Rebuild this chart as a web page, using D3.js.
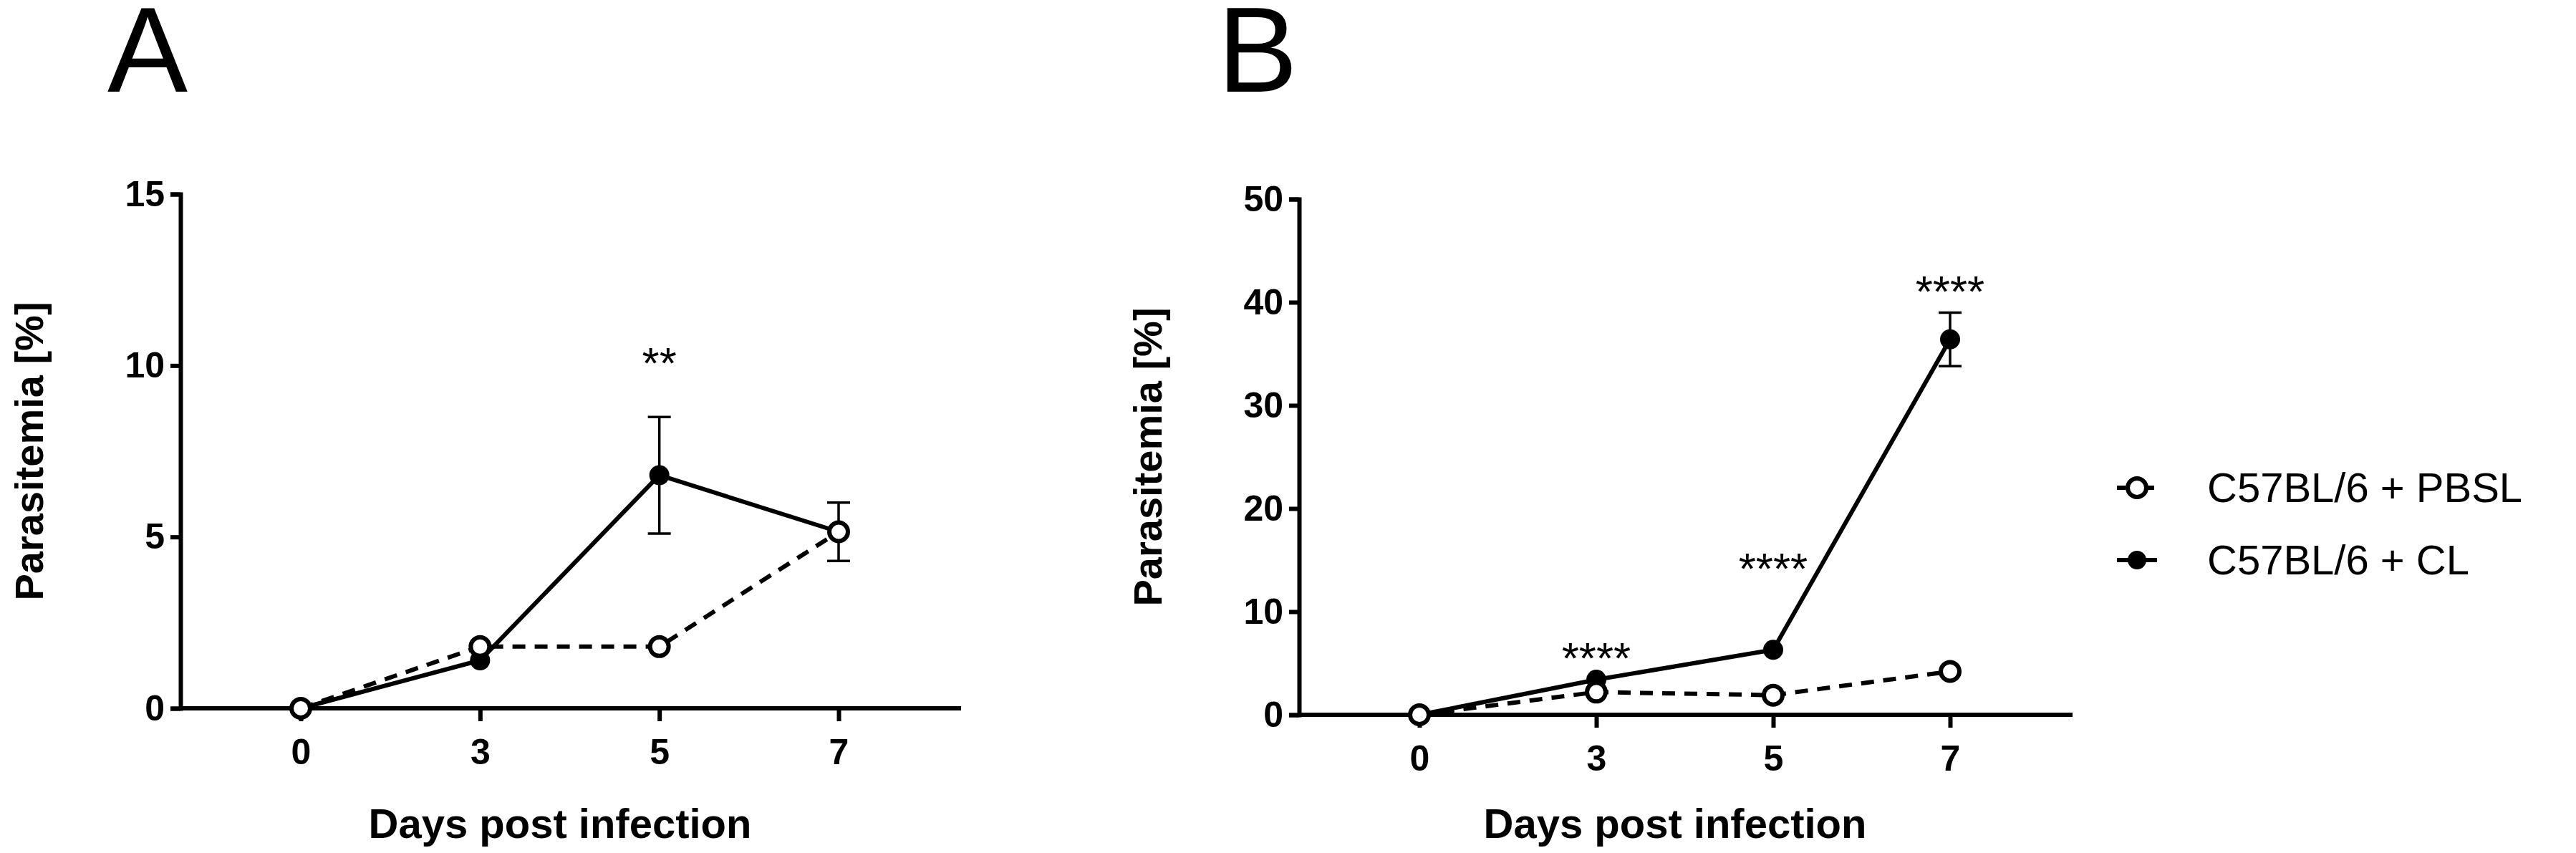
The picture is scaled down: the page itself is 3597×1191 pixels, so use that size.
<!DOCTYPE html>
<html lang="en">
<head>
  <meta charset="UTF-8">
  <title>Parasitemia</title>
  <style>
    body { margin: 0; background: #fff; }
    text { font-family: "Liberation Sans", Arial, sans-serif; }
  </style>
</head>
<body>
  <script src="https://d3js.org/d3.v7.min.js"></script>
  <script>
    const days = ["0", "3", "5", "7"];

    // panel A
    const pbslA = [0, 1.8, 1.8, 5.15];
    const clA = [0, 1.4, 6.8, 5.15];
    const clErrA = [0, 0, 1.7, 0.85];
    const starsA = ["", "", "**", ""];
    const ticksA = [0, 5, 10, 15];

    // panel B
    const pbslB = [0, 2.2, 1.9, 4.2];
    const clB = [0, 3.4, 6.3, 36.4];
    const clErrB = [0, 0, 0, 2.6];
    const starsB = ["", "****", "****", "****"];
    const ticksB = [0, 10, 20, 30, 40, 50];

    const legendLabels = ["C57BL/6 + PBSL", "C57BL/6 + CL"];

    const svg = d3.select("body").append("svg")
      .attr("width", 3597).attr("height", 1191);

    function panel(opt) {
      const g = svg.append("g");
      const x = d3.scalePoint().domain(days).range([opt.x0 + 168, opt.x1 - 171]);
      const y = d3.scaleLinear().domain([0, opt.max]).range([opt.bottom, opt.top]);

      g.append("text").attr("x", opt.labelX).attr("y", 128)
        .attr("font-size", 168).text(opt.label);

      // axes
      const ya = g.append("g").attr("transform", `translate(${opt.x0},0)`)
        .call(d3.axisLeft(y).tickValues(opt.ticks).tickSize(14).tickPadding(8));
      const xa = g.append("g").attr("transform", `translate(0,${opt.bottom})`)
        .call(d3.axisBottom(x).tickSize(18).tickPadding(24));
      xa.select(".domain").attr("d", `M${opt.x0},0H${opt.x1}`);
      [ya, xa].forEach(a => {
        a.selectAll("path,line").attr("stroke", "#000").attr("stroke-width", 6);
        a.selectAll("text").attr("font-size", 50).attr("font-weight", "bold")
          .attr("font-family", "Liberation Sans, Arial, sans-serif").attr("fill", "#000");
      });

      g.append("text")
        .attr("transform", `translate(${opt.x0 - 192},${(opt.top + opt.bottom) / 2}) rotate(-90)`)
        .attr("text-anchor", "middle").attr("font-size", 56).attr("font-weight", "bold")
        .text("Parasitemia [%]");
      g.append("text").attr("x", (opt.x0 + opt.x1) / 2 - 15).attr("y", 1170)
        .attr("text-anchor", "middle").attr("font-size", 58).attr("font-weight", "bold")
        .text("Days post infection");

      // error bars (CL)
      days.forEach((d, i) => {
        const e = opt.clErr[i];
        if (!e) return;
        const cx = x(d);
        g.append("path")
          .attr("d", `M${cx - 16},${y(opt.cl[i] + e)}H${cx + 16}M${cx},${y(opt.cl[i] + e)}V${y(opt.cl[i] - e)}M${cx - 16},${y(opt.cl[i] - e)}H${cx + 16}`)
          .attr("stroke", "#000").attr("stroke-width", 3.5).attr("fill", "none");
      });

      const line = v => d3.line().x((d, i) => x(days[i])).y(d => y(d))(v);
      g.append("path").attr("d", line(opt.cl)).attr("fill", "none")
        .attr("stroke", "#000").attr("stroke-width", 6);
      g.append("path").attr("d", line(opt.pbsl)).attr("fill", "none")
        .attr("stroke", "#000").attr("stroke-width", 6).attr("stroke-dasharray", "18,13");

      g.selectAll(".cl").data(opt.cl).join("circle")
        .attr("cx", (d, i) => x(days[i])).attr("cy", d => y(d)).attr("r", 14).attr("fill", "#000");
      g.selectAll(".pb").data(opt.pbsl).join("circle")
        .attr("cx", (d, i) => x(days[i])).attr("cy", d => y(d)).attr("r", 13)
        .attr("fill", "#fff").attr("stroke", "#000").attr("stroke-width", 6);

      g.selectAll(".star").data(opt.stars).join("text")
        .attr("x", (d, i) => x(days[i])).attr("y", (d, i) => opt.starY[i])
        .attr("text-anchor", "middle").attr("font-size", 62).text(d => d);
    }

    panel({ label: "A", labelX: 150, x0: 252, x1: 1342, top: 271, bottom: 989,
      max: 15, ticks: ticksA, pbsl: pbslA, cl: clA, clErr: clErrA, stars: starsA,
      starY: [0, 0, 528, 0] });
    panel({ label: "B", labelX: 1700, x0: 1814, x1: 2894, top: 278, bottom: 998,
      max: 50, ticks: ticksB, pbsl: pbslB, cl: clB, clErr: clErrB, stars: starsB,
      starY: [0, 940, 815, 428] });

    // legend
    const lg = svg.append("g");
    legendLabels.forEach((t, i) => {
      const cy = 681 + i * 101;
      lg.append("path").attr("d", `M2956,${cy}H3012`).attr("stroke", "#000").attr("stroke-width", 6)
        .attr("stroke-dasharray", i === 0 ? "12,8" : null);
      lg.append("circle").attr("cx", 2984).attr("cy", cy).attr("r", 13)
        .attr("fill", i === 0 ? "#fff" : "#000").attr("stroke", "#000").attr("stroke-width", i === 0 ? 6 : 0);
      lg.append("text").attr("x", 3082).attr("y", cy + 20).attr("font-size", 58).text(t);
    });
  </script>
</body>
</html>
